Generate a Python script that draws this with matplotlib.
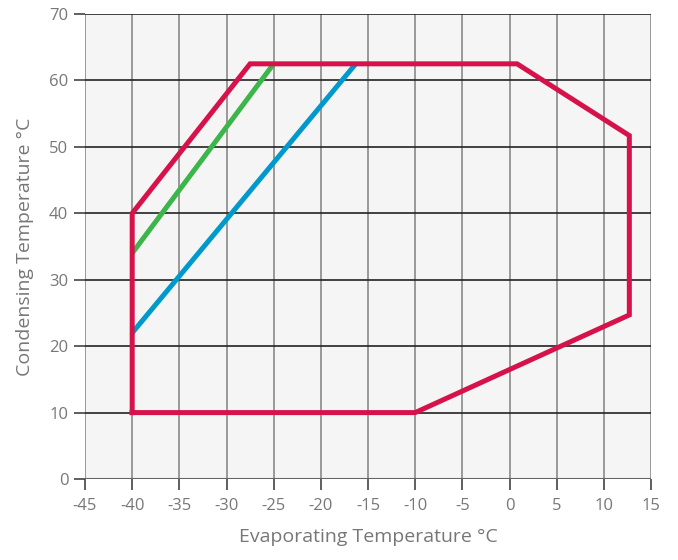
import numpy as np
import matplotlib
matplotlib.use('Agg')
import matplotlib.pyplot as plt

# operating envelope (evaporating, condensing)
envelope_x = [-40, -40, -27.5, 0.8, 12.7, 12.7, -10, -40]
envelope_y = [10, 40, 62.5, 62.5, 51.7, 24.7, 10, 10]

green_x = [-40, -25]
green_y = [34, 62.5]

blue_x = [-40, -16.3]
blue_y = [22, 62.5]

x_ticks = np.arange(-45, 16, 5)
y_ticks = np.arange(0, 71, 10)

plt.rcParams['font.family'] = ['Open Sans', 'DejaVu Sans']

fig = plt.figure(figsize=(6.78, 5.6), dpi=100)
ax = fig.add_axes([0.1254, 0.1446, 0.8348, 0.8304])
ax.set_facecolor('#f5f5f5')

for x in x_ticks:
    ax.axvline(x, color='#8a8a8a', linewidth=1.2, zorder=1)
for y in y_ticks:
    ax.axhline(y, color='#222222', linewidth=1.2, zorder=1)
ax.axhline(0, color='#666666', linewidth=1.5, zorder=1)

ax.plot(green_x, green_y, color='#3db54a', linewidth=3.6, solid_capstyle='butt', zorder=3)
ax.plot(blue_x, blue_y, color='#0099cc', linewidth=3.6, solid_capstyle='butt', zorder=3)
ax.plot(envelope_x, envelope_y, color='#d6124a', linewidth=3.6, solid_joinstyle='miter', zorder=4)

ax.set_xlim(-45, 15)
ax.set_ylim(0, 70)
ax.set_xticks(x_ticks)
ax.set_yticks(y_ticks)
ax.set_xticklabels([str(v) for v in x_ticks])
for s in ax.spines.values():
    s.set_visible(False)
ax.tick_params(axis='both', colors='#444444', labelcolor='#777777', labelsize=12, length=8, width=1.2)
ax.tick_params(axis='x', pad=6)
ax.tick_params(axis='y', pad=4)

ax.set_xlabel('Evaporating Temperature °C', color='#777777', fontsize=14, labelpad=10)
ax.set_ylabel('Condensing Temperature °C', color='#777777', fontsize=14, labelpad=11)

fig.savefig('out.png', dpi=100)
